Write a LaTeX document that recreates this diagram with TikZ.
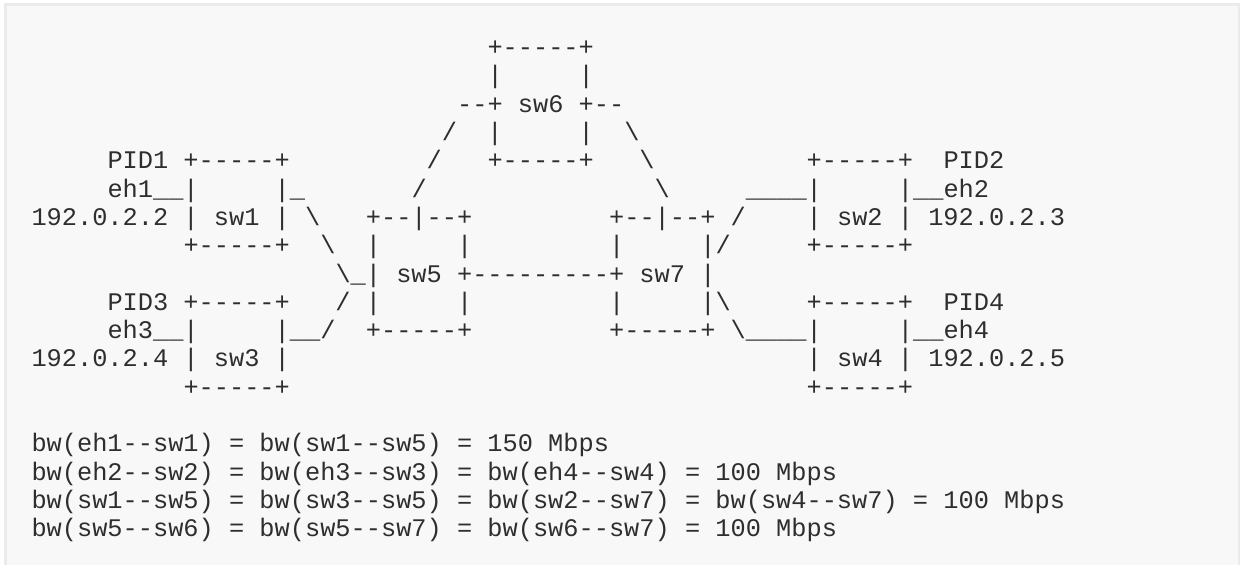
\documentclass[tikz,border=0pt]{standalone}
\usepackage{fontspec}
\setmonofont{Liberation Mono}
\definecolor{txt}{HTML}{2E2E2E}
\definecolor{bgcol}{HTML}{F8F8F8}
\definecolor{bordercol}{HTML}{EBEBEB}
\newcommand\gap[1]{\hskip #1\fontdimen2\font\relax}
\newcommand\bs{\textbackslash}
\newcommand\us{\_}
\newcommand\artrow[4]{\node[asciirow] (#3) at ({31.5+15.2*#1},{-55.6-28.3*#2}) {#4};}
\tikzset{asciirow/.style={anchor=base west, inner sep=0pt, outer sep=0pt, text=txt,
  font=\ttfamily\fontsize{25.33}{28.3}\selectfont\frenchspacing}}
\begin{document}
\begin{tikzpicture}[x=1pt,y=1pt]
\useasboundingbox (0,0) rectangle (1240,-565);
\fill[white] (0,0) rectangle (1240,-565);
\begin{scope}
\clip (0,0) rectangle (1240,-565);
\draw[draw=bordercol, fill=bgcol, line width=2.6pt] (5.5,-4.6) rectangle (1238.8,-620);
\end{scope}
% diagram rows
\artrow{30}{0}{r0}{+-----+}
\artrow{30}{1}{r1}{|\gap{5}|}
\artrow{28}{2}{r2}{--+ sw6 +--}
\artrow{27}{3}{r3}{/\gap{2}|\gap{5}|\gap{2}\bs}
\artrow{5}{4}{r4}{PID1 +-----+\gap{9}/\gap{3}+-----+\gap{3}\bs\gap{10}+-----+\gap{2}PID2}
\artrow{5}{5}{r5}{eh1\us\us|\gap{5}|\us\gap{7}/\gap{15}\bs\gap{5}\us\us\us\us|\gap{5}|\us\us eh2}
\artrow{0}{6}{r6}{192.0.2.2 | sw1 | \bs\gap{3}+--|--+\gap{9}+--|--+\gap{1}/\gap{4}| sw2 | 192.0.2.3}
\artrow{10}{7}{r7}{+-----+\gap{2}\bs\gap{2}|\gap{5}|\gap{9}|\gap{5}|/\gap{5}+-----+}
\artrow{20}{8}{r8}{\bs\us| sw5 +---------+ sw7 |}
\artrow{5}{9}{r9}{PID3 +-----+\gap{3}/\gap{1}|\gap{5}|\gap{9}|\gap{5}|\bs\gap{5}+-----+\gap{2}PID4}
\artrow{5}{10}{r10}{eh3\us\us|\gap{5}|\us\us/\gap{2}+-----+\gap{9}+-----+\gap{1}\bs\us\us\us\us|\gap{5}|\us\us eh4}
\artrow{0}{11}{r11}{192.0.2.4 | sw3 |\gap{34}| sw4 | 192.0.2.5}
\artrow{10}{12}{r12}{+-----+\gap{34}+-----+}
% bandwidth rows
\artrow{0}{14}{r14}{bw(eh1--sw1) = bw(sw1--sw5) = 150 Mbps}
\artrow{0}{15}{r15}{bw(eh2--sw2) = bw(eh3--sw3) = bw(eh4--sw4) = 100 Mbps}
\artrow{0}{16}{r16}{bw(sw1--sw5) = bw(sw3--sw5) = bw(sw2--sw7) = bw(sw4--sw7) = 100 Mbps}
\artrow{0}{17}{r17}{bw(sw5--sw6) = bw(sw5--sw7) = bw(sw6--sw7) = 100 Mbps}
\end{tikzpicture}
\end{document}
